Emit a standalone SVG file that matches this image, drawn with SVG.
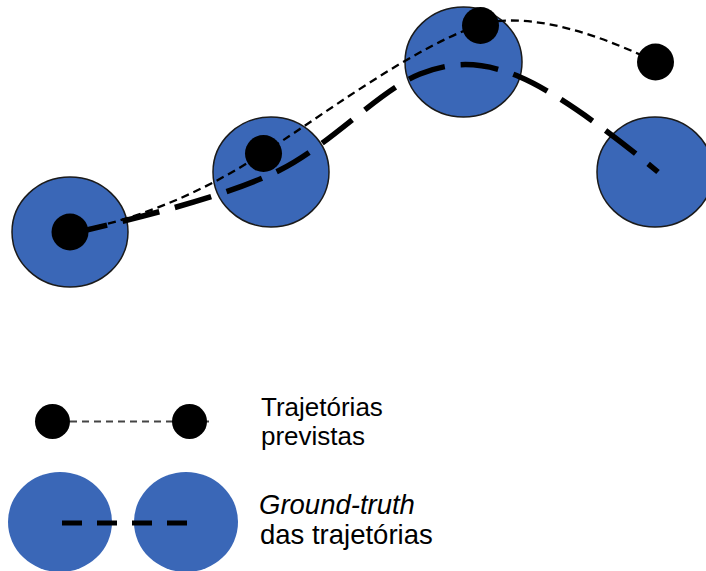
<svg xmlns="http://www.w3.org/2000/svg" width="706" height="571" viewBox="0 0 706 571">
<style>
.gt{fill:#3A67B7;stroke:#1a1a1a;stroke-width:1.5}
.gtl{fill:#3A67B7}
.dot{fill:#000}
.pred{fill:none;stroke:#000;stroke-width:2.3;stroke-dasharray:8 5}
.truth{fill:none;stroke:#000;stroke-width:5.5;stroke-dasharray:38 16}
.lbl{font-family:"Liberation Sans",Arial,sans-serif;font-size:26px;fill:#000}
.lbl2{font-family:"Liberation Sans",Arial,sans-serif;font-size:27.5px;fill:#000}
</style>
<rect width="706" height="571" fill="#fff"/>
<g id="gt1"><ellipse class="gt" cx="70" cy="232" rx="58" ry="55"/></g>
<g id="gt2"><ellipse class="gt" cx="271" cy="172" rx="58" ry="55"/></g>
<g id="gt3"><ellipse class="gt" cx="463.5" cy="62" rx="58.5" ry="55"/></g>
<g id="gt4"><ellipse class="gt" cx="655" cy="172" rx="58" ry="55"/></g>
<g id="connectors">
<path class="truth" d="M70,234 C150,215 230,195 280,170 C330,145 380,90 420,74 C450,62 480,60 520,77 C560,94 620,140 658,172"/>
<path class="pred" d="M70,232 C130,222 200,195 263,153 C310,125 420,40 490,22 C545,14 610,40 656,62"/>
</g>
<g id="p1"><circle class="dot" cx="70" cy="232" r="18.5"/></g>
<g id="p2"><circle class="dot" cx="263.5" cy="153.5" r="18.5"/></g>
<g id="p3"><circle class="dot" cx="480.5" cy="25.5" r="18.5"/></g>
<g id="p4"><circle class="dot" cx="655.5" cy="62" r="18.5"/></g>
<g id="legend-pred">
<line x1="70" y1="421.5" x2="210" y2="421.5" stroke="#444" stroke-width="2" stroke-dasharray="7 5"/>
<circle class="dot" cx="52.5" cy="421.5" r="17.5"/>
<circle class="dot" cx="189.5" cy="421.5" r="17.5"/>
<text class="lbl" x="261" y="415.5">Trajetórias</text>
<text class="lbl" x="261" y="445">previstas</text>
</g>
<g id="legend-gt">
<ellipse class="gtl" cx="60" cy="522" rx="52" ry="50"/>
<ellipse class="gtl" cx="186" cy="522" rx="52" ry="50"/>
<line x1="62" y1="523" x2="187" y2="523" stroke="#000" stroke-width="5" stroke-dasharray="20 15"/>
<text class="lbl2" x="259" y="514" font-style="italic">Ground-truth</text>
<text class="lbl2" x="260" y="544">das trajetórias</text>
</g>
</svg>
